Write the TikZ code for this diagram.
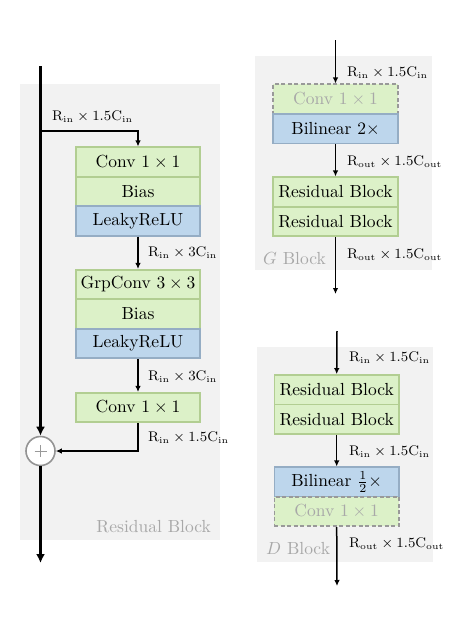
\documentclass[tikz,border=0pt]{standalone}
\usetikzlibrary{arrows.meta,calc}
\definecolor{bgc}{HTML}{F2F2F2}
\definecolor{gfill}{HTML}{DCF1C8}
\definecolor{gdraw}{HTML}{B2CE92}
\definecolor{bfill}{HTML}{BDD6EC}
\definecolor{bdraw}{HTML}{95ADC4}
\definecolor{dashc}{HTML}{999999}
\definecolor{greytxt}{HTML}{A8A8A8}
\newcommand{\bt}[1]{\scalebox{1.75}{\fontsize{10}{12}\selectfont #1}}
\newcommand{\lt}[1]{\scalebox{1.75}{\fontsize{7.6}{9}\selectfont #1}}
\tikzset{
  panel/.style={fill=bgc, draw=none},
  blk/.style={minimum height=29.5pt, inner sep=0pt, line width=1.6pt},
  gbox/.style={blk, fill=gfill, draw=gdraw},
  bbox/.style={blk, fill=bfill, draw=bdraw},
  dbox/.style={blk, fill=gfill, draw=dashc, dash pattern=on 4pt off 2.5pt, text=greytxt},
  lbl/.style={anchor=west, inner sep=0pt},
  ttl/.style={inner sep=0pt, text=greytxt},
  flow/.style={line width=1.5pt, -{Latex[length=6pt,width=5.5pt]}},
  mainflow/.style={line width=2.8pt, -{Latex[length=9pt,width=9pt]}},
  plusc/.style={circle, draw=gray!85, fill=white, line width=1.6pt, minimum size=29pt, inner sep=0pt},
}
\newcommand{\dimlab}[3]{\lt{$\mathrm{R_{#1}\times #2C_{#3}}$}}
\begin{document}
\begin{tikzpicture}[x=1pt,y=-1pt]
\useasboundingbox (0,0) rectangle (456,632);
% ---------- left panel: residual block
\fill[panel] (20,84) rectangle (220,540);
\node[ttl, anchor=east] (rbt) at (211,527) {\bt{Residual Block}};
\coordinate (top) at (40.5,66);
\coordinate (bot) at (40.5,563);
\coordinate (split) at (40.5,131);
\node[gbox, minimum width=124pt] (c1) at (138,162) {\bt{Conv $1\times1$}};
\node[gbox, minimum width=124pt] (b1) at (138,191.5) {\bt{Bias}};
\node[bbox, minimum width=124pt] (l1) at (138,221) {\bt{LeakyReLU}};
\node[gbox, minimum width=124pt] (g2) at (138,284.5) {\bt{GrpConv $3\times3$}};
\node[gbox, minimum width=124pt] (b2) at (138,314) {\bt{Bias}};
\node[bbox, minimum width=124pt] (l2) at (138,343.5) {\bt{LeakyReLU}};
\node[gbox, minimum width=124pt] (c3) at (138,407.5) {\bt{Conv $1\times1$}};
\node[plusc] (plus) at (40.5,451) {};
\draw[line width=0.6pt, gray!80] ($(plus.center)+(-6,0)$) -- ++(12,0) ($(plus.center)+(0,-6)$) -- ++(0,12);
\draw[mainflow] (top) -- (plus.north);
\draw[mainflow] (plus.south) -- (bot);
\draw[flow] (split) -| (c1.north);
\draw[flow] (l1.south) -- (g2.north);
\draw[flow] (l2.south) -- (c3.north);
\draw[flow] (c3.south) |- (plus.east);
\node[lbl] (la) at (52,117) {\dimlab{in}{1.5}{in}};
\node[lbl] (lb) at (148,253) {\dimlab{in}{3}{in}};
\node[lbl] (lc) at (148,377) {\dimlab{in}{3}{in}};
\node[lbl] (ld) at (148,438) {\dimlab{in}{1.5}{in}};
% ---------- G block
\fill[panel] (255,56) rectangle (432,270);
\coordinate (gtop) at (335.5,40);
\coordinate (gbot) at (335.5,294);
\node[dbox, minimum width=124.5pt] (gc) at (335.5,99) {\bt{Conv $1\times1$}};
\node[bbox, minimum width=124.5pt] (gb) at (335.5,128.75) {\bt{Bilinear $2\times$}};
\node[gbox, minimum width=124.5pt] (gr1) at (335.5,192) {\bt{Residual Block}};
\node[gbox, minimum width=124.5pt] (gr2) at (335.5,221.5) {\bt{Residual Block}};
\draw[flow] (gtop) -- (gc.north);
\draw[flow] (gb.south) -- (gr1.north);
\draw[flow] (gr2.south) -- (gbot);
\node[lbl] (ga) at (347,72.5) {\dimlab{in}{1.5}{in}};
\node[lbl] (gl) at (347,161.5) {\dimlab{out}{1.5}{out}};
\node[lbl] (gm) at (347,254.5) {\dimlab{out}{1.5}{out}};
\node[ttl, anchor=west] (gt) at (263,259) {\bt{$G$ Block}};
% ---------- D block
\fill[panel] (257,347) rectangle (433,562);
\coordinate (dtop) at (337,331);
\coordinate (dbot) at (337,586);
\node[gbox, minimum width=124.5pt] (dr1) at (336.7,389.7) {\bt{Residual Block}};
\node[gbox, minimum width=124.5pt] (dr2) at (336.7,419.2) {\bt{Residual Block}};
\node[bbox, minimum width=124.5pt] (db) at (336.7,482) {\bt{Bilinear $\frac{1}{2}\times$}};
\node[dbox, minimum width=124.5pt] (dc) at (336.7,511.5) {\bt{Conv $1\times1$}};
\draw[flow] (dtop) -- (dr1.north);
\draw[flow] (dr2.south) -- (db.north);
\draw[flow] (dc.south) -- (dbot);
\node[lbl] (da) at (349,358) {\dimlab{in}{1.5}{in}};
\node[lbl] (dl) at (349,451.5) {\dimlab{in}{1.5}{in}};
\node[lbl] (dm) at (349,544) {\dimlab{out}{1.5}{out}};
\node[ttl, anchor=west] (dt) at (266,549) {\bt{$D$ Block}};
\end{tikzpicture}
\end{document}
